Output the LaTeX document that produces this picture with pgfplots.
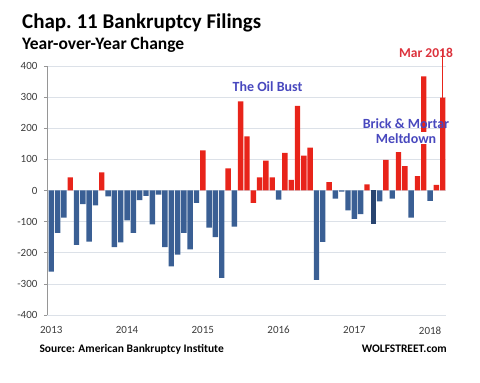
\documentclass[border=0pt]{standalone}
\usepackage{pgfplots}
\pgfplotsset{compat=1.18}
\usepackage{pgfplotstable}
\usepackage{fontspec}
\setmainfont{Carlito}
\definecolor{barred}{RGB}{232,36,26}
\definecolor{barblue}{RGB}{58,95,148}
\definecolor{bardark}{RGB}{40,68,112}
\definecolor{annot}{RGB}{72,72,190}
\definecolor{labred}{RGB}{220,50,60}
\definecolor{gridgray}{RGB}{220,225,232}
\definecolor{axgray}{RGB}{150,150,150}
\definecolor{ticktext}{RGB}{60,60,60}

% month index 0 = Jan 2013
\pgfplotstableread{
x y
0 -261
1 -136
2 -87
4 -175
5 -44
6 -164
7 -48
9 -19
10 -182
11 -167
12 -96
13 -136
14 -31
15 -17
16 -109
17 -13
18 -182
19 -244
20 -206
21 -136
22 -189
23 -40
25 -119
26 -150
27 -281
29 -116
36 -29
42 -287
43 -165
45 -26
46 -4
47 -64
48 -91
49 -76
52 -35
54 -26
57 -87
60 -33
}\bluedata

\pgfplotstableread{
x y
51 -107
}\darkdata

\pgfplotstableread{
x y
3 42
8 58
24 129
28 71
30 286
31 174
32 -40
33 42
34 96
35 42
37 121
38 34
39 272
40 112
41 138
44 27
50 20
53 98
55 123
56 78
58 46
59 367
61 18
62 298
}\reddata

\begin{document}
\begin{tikzpicture}
\useasboundingbox (0pt,0pt) rectangle (480pt,383pt);
\begin{axis}[
  at={(47pt,68pt)}, anchor=south west,
  scale only axis, width=399pt, height=249pt,
  xmin=-0.68, xmax=62.52, ymin=-400, ymax=400,
  ytick={-400,-300,...,400},
  xtick={0,12,24,36,48,60},
  xticklabels={2013,2014,2015,2016,2017,2018},
  ymajorgrids, grid style={gridgray, line width=0.6pt},
  axis y line*=left, axis x line*=bottom,
  x axis line style={draw=none},
  y axis line style={axgray, line width=0.6pt},
  xtick style={draw=none},
  ytick style={axgray, line width=0.6pt},
  tick align=outside, major tick length=3pt,
  tick label style={font=\fontsize{11}{13}\selectfont, text=ticktext},
  yticklabel style={xshift=-3pt},
  xticklabel style={yshift=-5pt},
  /pgf/number format/assume math mode=true,
  ybar, bar width=5.4pt, clip=false,
]
\addplot[fill=barblue, draw=none, bar shift=0pt] table {\bluedata};
\addplot[fill=bardark, draw=none, bar shift=0pt] table {\darkdata};
\addplot[fill=barred, draw=none, bar shift=0pt] table {\reddata};
\draw[barred, line width=0.8pt] (axis cs:62,298) -- (axis cs:62,455);
\end{axis}
\node[anchor=base west, inner sep=0pt] at (22pt,354.7pt) {\fontsize{21}{25}\selectfont\bfseries Chap.\ 11 Bankruptcy Filings};
\node[anchor=base west, inner sep=0pt] at (22pt,333pt) {\fontsize{17.5}{21}\selectfont\bfseries Year-over-Year Change};
\node[text=labred, inner sep=0pt] at (426pt,330.5pt) {\fontsize{13.5}{16}\selectfont\bfseries Mar 2018};
\node[text=annot, inner sep=0pt] at (267.5pt,296.3pt) {\fontsize{14}{17}\selectfont\bfseries The Oil Bust};
\node[text=annot, inner sep=0pt] at (406pt,259.7pt) {\fontsize{14}{17}\selectfont\bfseries Brick \& Mortar};
\node[text=annot, fill=white, inner sep=1pt] at (406pt,244.7pt) {\fontsize{14}{17}\selectfont\bfseries Meltdown};
\node[anchor=base west, inner sep=0pt] at (39.3pt,30.7pt) {\fontsize{11.5}{14}\selectfont\bfseries Source: American Bankruptcy Institute};
\node[anchor=base east, inner sep=0pt] at (447pt,30.7pt) {\fontsize{11.5}{14}\selectfont\bfseries WOLFSTREET.com};
\end{tikzpicture}
\end{document}
